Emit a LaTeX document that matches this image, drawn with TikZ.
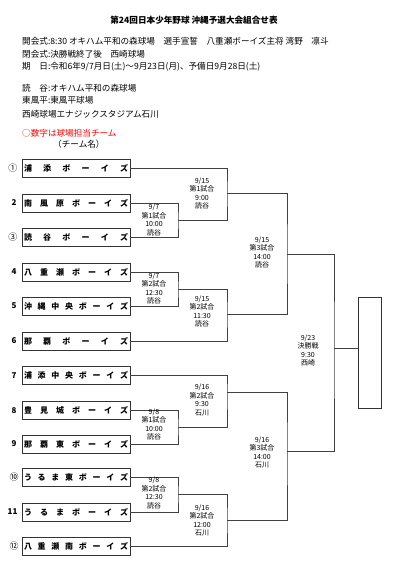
\documentclass[tikz,border=0pt]{standalone}
\usepackage{fontspec}
\setmainfont{Noto Sans CJK JP}
\newcommand\spreadname[1]{\hbox to 104pt{#1}}
\begin{document}
\begin{tikzpicture}[x=1pt,y=-1pt,
  team/.style={draw=black!80, line width=0.8pt, minimum width=108pt, minimum height=18pt, inner sep=0pt, font=\fontsize{8}{8}\selectfont\bfseries},
  num/.style={font=\fontsize{8}{8}\selectfont\bfseries, inner sep=0pt},
  cnum/.style={font=\fontsize{9}{9}\selectfont, inner sep=0pt},
  br/.style={draw=black!75, line width=0.7pt},
  lab/.style={align=center, font=\fontsize{7}{8.5}\selectfont, inner sep=0pt},
  hd/.style={anchor=west, font=\fontsize{8.6}{8.6}\selectfont, inner sep=0pt}]
\useasboundingbox (0,0) rectangle (400,580);

% header
\node[font=\fontsize{8.6}{8.6}\selectfont\bfseries, inner sep=0pt] (title) at (194,20) {第24回日本少年野球 沖縄予選大会組合せ表};
\node[hd] (h1) at (22,41) {開会式:8:30 オキハム平和の森球場　選手宣誓　八重瀬ボーイズ主将 湾野　凛斗};
\node[hd] (h2) at (22,54) {閉会式:決勝戦終了後　西崎球場};
\node[hd] (h3) at (22,67) {期　日:令和6年9/7月日(土)〜9月23日(月)、予備日9月28日(土)};
\node[hd] (h4) at (22,88) {読　谷:オキハム平和の森球場};
\node[hd] (h5) at (22,100) {東風平:東風平球場};
\node[hd] (h6) at (22,114) {西崎球場エナジックスタジアム石川};
\node[hd, text=red] (h7) at (22,133) {○数字は球場担当チーム};
\node[hd] (h8) at (53,144) {（チーム名）};

% teams
\node[team] (t1) at (76,168) {\spreadname{浦\hfill 添\hfill ボ\hfill ー\hfill イ\hfill ズ}};
\node[team] (t2) at (76,203) {\spreadname{南\hfill 風\hfill 原\hfill ボ\hfill ー\hfill イ\hfill ズ}};
\node[team] (t3) at (76,237.5) {\spreadname{読\hfill 谷\hfill ボ\hfill ー\hfill イ\hfill ズ}};
\node[team] (t4) at (76,272) {\spreadname{八\hfill 重\hfill 瀬\hfill ボ\hfill ー\hfill イ\hfill ズ}};
\node[team] (t5) at (76,306) {\spreadname{沖\hfill 縄\hfill 中\hfill 央\hfill ボ\hfill ー\hfill イ\hfill ズ}};
\node[team] (t6) at (76,341) {\spreadname{那\hfill 覇\hfill ボ\hfill ー\hfill イ\hfill ズ}};
\node[team] (t7) at (76,375.5) {\spreadname{浦\hfill 添\hfill 中\hfill 央\hfill ボ\hfill ー\hfill イ\hfill ズ}};
\node[team] (t8) at (76,410.5) {\spreadname{豊\hfill 見\hfill 城\hfill ボ\hfill ー\hfill イ\hfill ズ}};
\node[team] (t9) at (76,444) {\spreadname{那\hfill 覇\hfill 東\hfill ボ\hfill ー\hfill イ\hfill ズ}};
\node[team] (t10) at (76,477.5) {\spreadname{う\hfill る\hfill ま\hfill 東\hfill ボ\hfill ー\hfill イ\hfill ズ}};
\node[team] (t11) at (76,512) {\spreadname{う\hfill る\hfill ま\hfill ボ\hfill ー\hfill イ\hfill ズ}};
\node[team] (t12) at (76,546) {\spreadname{八\hfill 重\hfill 瀬\hfill 南\hfill ボ\hfill ー\hfill イ\hfill ズ}};

% numbers
\node[cnum] (n1) at (13,168) {①};
\node[num] (n2) at (14,203) {2};
\node[cnum] (n3) at (13,237.5) {③};
\node[num] (n4) at (14,272) {4};
\node[num] (n5) at (14,306) {5};
\node[num] (n6) at (14,341) {6};
\node[num] (n7) at (14,375.5) {7};
\node[num] (n8) at (14,410.5) {8};
\node[num] (n9) at (14,444) {9};
\node[cnum] (n10) at (14,477.5) {⑩};
\node[num] (n11) at (12.5,512) {11};
\node[cnum] (n12) at (14,546) {⑫};

% junctions
\coordinate (m1) at (178,220.5);
\coordinate (m2) at (178,289);
\coordinate (m3) at (178,427);
\coordinate (m4) at (178,494.5);
\coordinate (q1) at (227,193.5);
\coordinate (q2) at (227,314);
\coordinate (q3) at (227,392);
\coordinate (q4) at (227,520.5);
\coordinate (s1) at (287,254);
\coordinate (s2) at (287,451);
\coordinate (f) at (334,348);
\node[draw=black!80, line width=0.8pt, minimum width=23pt, minimum height=111pt, inner sep=0pt] (champ) at (369.5,352.5) {};

% bracket
\draw[br] (t2.east) -| (m1) |- (t3.east);
\draw[br] (t4.east) -| (m2) |- (t5.east);
\draw[br] (t8.east) -| (m3) |- (t9.east);
\draw[br] (t10.east) -| (m4) |- (t11.east);
\draw[br] (t1.east) -| (q1) |- (m1);
\draw[br] (m2) -| (q2) |- (t6.east);
\draw[br] (t7.east) -| (q3) |- (m3);
\draw[br] (m4) -| (q4) |- (t12.east);
\draw[br] (q1) -| (s1) |- (q2);
\draw[br] (q3) -| (s2) |- (q4);
\draw[br] (s1) -| (f) |- (s2);
\draw[br] (f) -- (f -| champ.west);

% labels
\node[lab] (l1) at (154,220) {9/7\\第1試合\\10:00\\読谷};
\node[lab] (l2) at (154,288.5) {9/7\\第2試合\\12:30\\読谷};
\node[lab] (l3) at (154,424.5) {9/8\\第1試合\\10:00\\読谷};
\node[lab] (l4) at (154,493) {9/8\\第2試合\\12:30\\読谷};
\node[lab] (l5) at (202,193.5) {9/15\\第1試合\\9:00\\読谷};
\node[lab] (l6) at (202,311.5) {9/15\\第2試合\\11:30\\読谷};
\node[lab] (l7) at (202,400) {9/16\\第2試合\\9:30\\石川};
\node[lab] (l8) at (202,520.5) {9/16\\第2試合\\12:00\\石川};
\node[lab] (l9) at (262,252.5) {9/15\\第3試合\\14:00\\読谷};
\node[lab] (l10) at (262,452.5) {9/16\\第3試合\\14:00\\石川};
\node[lab] (l11) at (308,350.5) {9/23\\決勝戦\\9:30\\西崎};
\end{tikzpicture}
\end{document}
